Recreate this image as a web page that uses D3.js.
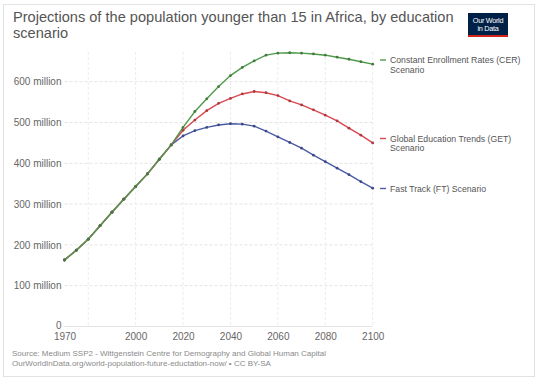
<!DOCTYPE html>
<html><head><meta charset="utf-8">
<script src="https://cdn.jsdelivr.net/npm/d3@7"></script>
<style>body{margin:0;background:#fff;font-family:"Liberation Sans",Arial,sans-serif}</style>
</head><body><svg id="c" width="540" height="383"></svg>
<script>
const years = d3.range(1970, 2101, 5);
const history = [163, 187, 214, 247, 280, 312, 343, 374, 410, 445];
const cerValues = history.concat([488, 527, 558, 588, 615, 635, 651, 665, 670, 671, 670, 668, 665, 660, 655, 649, 643]);
const getValues = history.concat([481, 506, 529, 547, 559, 570, 576, 573, 566, 553, 543, 531, 518, 504, 486, 469, 450]);
const ftValues  = history.concat([467, 480, 488, 494, 497, 496, 491, 479, 465, 451, 437, 420, 404, 388, 372, 355, 339]);
const seriesNames = ["Fast Track (FT) Scenario", "Global Education Trends (GET) Scenario", "Constant Enrollment Rates (CER) Scenario"];
const seriesColors = ["#4a5ba6", "#d9474f", "#4f9a4a"];
const seriesData = [ftValues, getValues, cerValues];
const yTicks = [0, 100, 200, 300, 400, 500, 600];
const xTickLabels = [1970, 2000, 2020, 2040, 2060, 2080, 2100];
const xGrid = [1980, 2000, 2020, 2040, 2060, 2080, 2100];

const svg = d3.select("#c");
svg.append("rect").attr("x",3.5).attr("y",4.5).attr("width",531).attr("height",372)
  .attr("fill","#fff").attr("stroke","#e2e2e2");

const x = d3.scaleLinear().domain([1970, 2100]).range([64.5, 372.7]);
const y = d3.scaleLinear().domain([0, 600]).range([326.5, 81.7]);
const fmt = v => v === 0 ? "0" : v + " million";

// title
const title = svg.append("text").attr("x",13).attr("fill","#555").attr("font-size",14.6);
title.append("tspan").attr("x",13).attr("y",22).text("Projections of the population younger than 15 in Africa, by education");
title.append("tspan").attr("x",13).attr("y",38).text("scenario");

// logo
const logo = svg.append("g");
logo.append("rect").attr("x",468).attr("y",13).attr("width",40).attr("height",24).attr("fill","#002147");
logo.append("rect").attr("x",468).attr("y",35).attr("width",40).attr("height",2).attr("fill","#ce261e");
logo.append("text").attr("x",488).attr("y",22.5).attr("text-anchor","middle").attr("fill","#fff").attr("font-size",7.3).attr("letter-spacing",-0.3).text("Our World");
logo.append("text").attr("x",488).attr("y",31).attr("text-anchor","middle").attr("fill","#fff").attr("font-size",7.3).attr("letter-spacing",-0.3).text("in Data");

// grid
const g = svg.append("g");
g.selectAll("line.h").data(yTicks).join("line").attr("class","h")
  .attr("x1",64.5).attr("x2",372.7).attr("y1",d=>y(d)).attr("y2",d=>y(d))
  .attr("stroke","#e4e4e4").attr("stroke-dasharray",d=>d===0?null:"3,2");
g.selectAll("line.v").data(xGrid).join("line").attr("class","v")
  .attr("x1",d=>x(d)).attr("x2",d=>x(d)).attr("y1",52).attr("y2",326.5)
  .attr("stroke","#ececec").attr("stroke-dasharray","3,2");

// axes labels
const yAxis = d3.axisLeft(y).tickValues(yTicks).tickFormat(fmt).tickSize(0).tickPadding(3);
svg.append("g").attr("transform","translate(64.5,0)").call(yAxis)
  .call(s=>s.select(".domain").remove())
  .selectAll("text").attr("fill","#666").attr("font-size",10).attr("font-family","Liberation Sans, Arial, sans-serif");
svg.selectAll("g.tick text").filter(d=>d===0).attr("dy","0.2em");
const xAxis = d3.axisBottom(x).tickValues(xTickLabels).tickFormat(d3.format("d")).tickSize(0).tickPadding(6.5);
svg.append("g").attr("transform","translate(0,326.5)").call(xAxis)
  .call(s=>s.select(".domain").remove())
  .selectAll("text").attr("fill","#666").attr("font-size",10).attr("font-family","Liberation Sans, Arial, sans-serif");

// lines
const line = d3.line().x((d,i)=>x(years[i])).y(d=>y(d));
seriesData.forEach((vals,k)=>{
  svg.append("path").datum(vals).attr("d",line).attr("fill","none")
    .attr("stroke",seriesColors[k]).attr("stroke-width",1.4);
  svg.append("g").selectAll("circle").data(vals).join("circle")
    .attr("cx",(d,i)=>x(years[i])).attr("cy",d=>y(d)).attr("r",1.4)
    .attr("fill",d3.color(seriesColors[k]).darker(0.6));
});

// legend labels
const legendLines = [["Fast Track (FT) Scenario"], ["Global Education Trends (GET)","Scenario"], ["Constant Enrollment Rates (CER)","Scenario"]];
const legendY = [188.5, 138.5, 60];
legendLines.forEach((ls,k)=>{
  svg.append("line").attr("x1",380).attr("x2",386).attr("y1",legendY[k]).attr("y2",legendY[k])
    .attr("stroke",seriesColors[k]).attr("stroke-width",1.4);
  const t = svg.append("text").attr("fill","#555").attr("font-size",8.7);
  ls.forEach((s,j)=>t.append("tspan").attr("x",390).attr("y",legendY[k]+3.1+j*9.5).text(s));
});

// footer
const f = svg.append("text").attr("fill","#8a8a8a").attr("font-size",8);
f.append("tspan").attr("x",12).attr("y",356).text("Source: Medium SSP2 - Wittgenstein Centre for Demography and Global Human Capital");
f.append("tspan").attr("x",12).attr("y",366).text("OurWorldInData.org/world-population-future-eductation-now/ • CC BY-SA");
</script></body></html>
